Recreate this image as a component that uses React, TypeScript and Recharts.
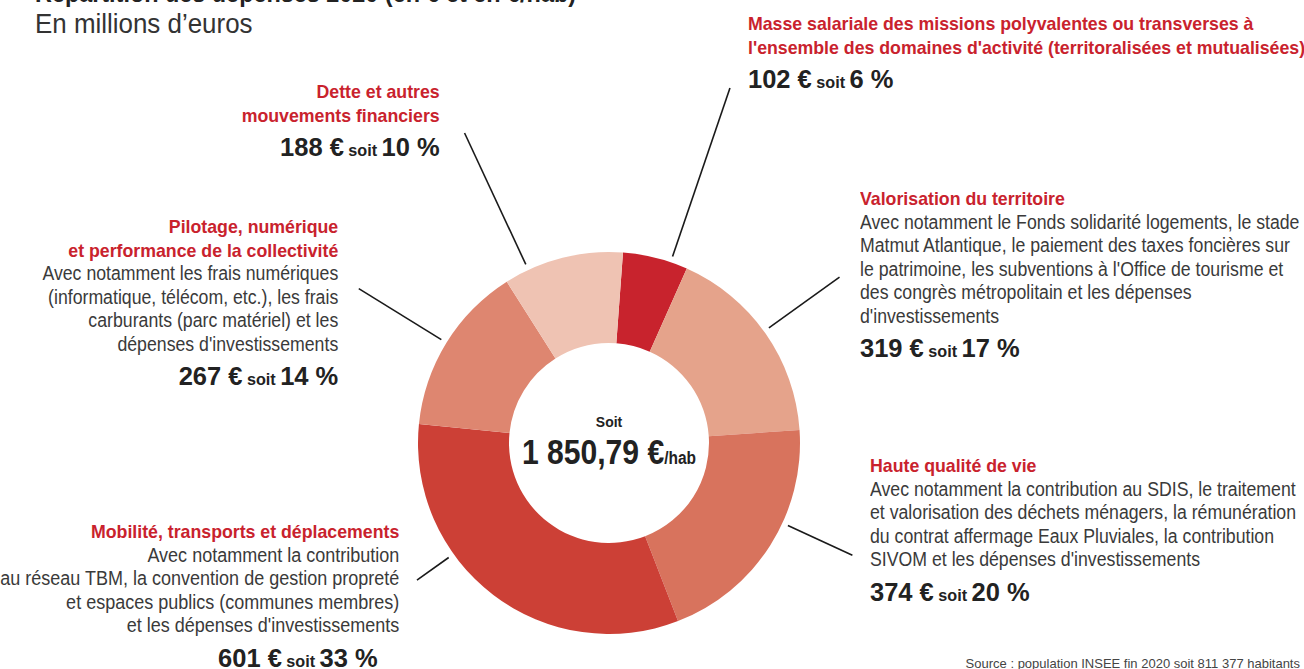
import { PieChart, Pie, Cell } from "recharts";

// Dépenses par habitant (€/hab) et part du total
const categories = [
  "Masse salariale des missions polyvalentes",
  "Valorisation du territoire",
  "Haute qualité de vie",
  "Mobilité, transports et déplacements",
  "Pilotage, numérique et performance de la collectivité",
  "Dette et autres mouvements financiers",
];
const perHab = [102, 319, 374, 601, 267, 188];
const shares = [6, 17, 20, 33, 14, 10];
const sliceColors = ["#C8232D", "#E5A38B", "#D8735D", "#CC4036", "#DE8670", "#EFC3B3"];

const headings = [
  ["Masse salariale des missions polyvalentes ou transverses à", "l'ensemble des domaines d'activité (territoralisées et mutualisées)"],
  ["Valorisation du territoire"],
  ["Haute qualité de vie"],
  ["Mobilité, transports et déplacements"],
  ["Pilotage, numérique", "et performance de la collectivité"],
  ["Dette et autres", "mouvements financiers"],
];
const details = [
  [],
  [
    "Avec notamment le Fonds solidarité logements, le stade",
    "Matmut Atlantique, le paiement des taxes foncières sur",
    "le patrimoine, les subventions à l'Office de tourisme et",
    "des congrès métropolitain et les dépenses",
    "d'investissements",
  ],
  [
    "Avec notamment la contribution au SDIS, le traitement",
    "et valorisation des déchets ménagers, la rémunération",
    "du contrat affermage Eaux Pluviales, la contribution",
    "SIVOM et les dépenses d'investissements",
  ],
  [
    "Avec notamment la contribution",
    "au réseau TBM, la convention de gestion propreté",
    "et espaces publics (communes membres)",
    "et les dépenses d'investissements",
  ],
  [
    "Avec notamment les frais numériques",
    "(informatique, télécom, etc.), les frais",
    "carburants (parc matériel) et les",
    "dépenses d'investissements",
  ],
  [],
];
const totalPerHab = "1 850,79 €";

const data = categories.map((name, i) => ({ name, value: perHab[i] }));

// layout of annotation blocks and leader lines
const blocks = [
  { x: 748, top: 12, align: "left", valuePad: 0, bodyScale: 0.885 },
  { x: 860, top: 187, align: "left", valuePad: 0, bodyScale: 0.885 },
  { x: 870, top: 454, align: "left", valuePad: 0, bodyScale: 0.885 },
  { x: 399, top: 520, align: "right", valuePad: 22, bodyScale: 0.9 },
  { x: 338, top: 215, align: "right", valuePad: 0, bodyScale: 0.885 },
  { x: 440, top: 80, align: "right", valuePad: 0, bodyScale: 0.885 },
];
const leaders = [
  { off: 4.7, len: 375 },
  { off: -0.8, len: 284 },
  { off: -7.7, len: 268 },
  { off: 17.2, len: 236 },
  { off: 0, len: 294 },
  { off: -10.9, len: 342 },
];

const RAD = Math.PI / 180;
const RED = "#C9222D";
const FONT = '"Liberation Sans", Arial, sans-serif';

const renderLeader = (props: any) => {
  const { cx, cy, midAngle, outerRadius, index } = props;
  const l = leaders[index];
  const a = (midAngle - l.off) * RAD;
  const r1 = outerRadius + 6;
  return (
    <line
      key={`leader-${index}`}
      x1={cx + r1 * Math.cos(a)}
      y1={cy - r1 * Math.sin(a)}
      x2={cx + l.len * Math.cos(a)}
      y2={cy - l.len * Math.sin(a)}
      stroke="#1a1a1a"
      strokeWidth={1.6}
    />
  );
};

function Line({ children, scale, origin, style }: any) {
  return (
    <div style={{ transform: `scaleX(${scale})`, transformOrigin: origin, ...style }}>
      {children}
    </div>
  );
}

function Block({ i }: { i: number }) {
  const b = blocks[i];
  const pos: any = b.align === "left" ? { left: b.x } : { right: 1304 - b.x };
  const origin = b.align === "left" ? "left center" : "right center";
  return (
    <div
      style={{
        position: "absolute",
        top: b.top,
        ...pos,
        textAlign: b.align as any,
        whiteSpace: "nowrap",
      }}
    >
      {headings[i].map((t) => (
        <Line
          key={t}
          scale={0.958}
          origin={origin}
          style={{ color: RED, fontWeight: 700, fontSize: 18.5, lineHeight: "23.5px" }}
        >
          {t}
        </Line>
      ))}
      {details[i].map((t) => (
        <Line
          key={t}
          scale={b.bodyScale}
          origin={origin}
          style={{ color: "#3a3a3a", fontSize: 20, lineHeight: "23.5px" }}
        >
          {t}
        </Line>
      ))}
      <Line
        scale={0.98}
        origin={origin}
        style={{ color: "#222", fontWeight: 700, lineHeight: "41.5px", paddingRight: b.valuePad }}
      >
        <span style={{ fontSize: 26 }}>{perHab[i]} €</span>
        <span style={{ fontSize: 16.5 }}> soit </span>
        <span style={{ fontSize: 26 }}>{shares[i]} %</span>
      </Line>
    </div>
  );
}

export default function App() {
  return (
    <div
      style={{
        position: "fixed",
        left: 0,
        top: 0,
        width: 1304,
        height: 669,
        overflow: "hidden",
        background: "#fff",
        fontFamily: FONT,
      }}
    >
      <div
        style={{
          position: "absolute",
          left: 35,
          top: -20,
          fontSize: 26,
          lineHeight: "26px",
          fontWeight: 700,
          color: "#222",
          whiteSpace: "nowrap",
          transform: "scaleX(0.9)",
          transformOrigin: "left center",
        }}
      >
        Répartition des dépenses 2020 (en € et en €/hab)
      </div>
      <div
        style={{
          position: "absolute",
          left: 35,
          top: 8,
          fontSize: 27,
          lineHeight: "32px",
          color: "#333",
          whiteSpace: "nowrap",
          transform: "scaleX(0.96)",
          transformOrigin: "left center",
        }}
      >
        En millions d’euros
      </div>

      <div style={{ position: "absolute", left: 0, top: 0 }}>
        <PieChart width={1304} height={669} margin={{ top: 0, right: 0, bottom: 0, left: 0 }}>
          <Pie
            data={data}
            dataKey="value"
            nameKey="name"
            cx={609}
            cy={443}
            innerRadius={100}
            outerRadius={191}
            startAngle={85.8}
            endAngle={-274.2}
            stroke="none"
            label={renderLeader}
            labelLine={false}
            isAnimationActive={false}
          >
            {data.map((d, i) => (
              <Cell key={d.name} fill={sliceColors[i]} />
            ))}
          </Pie>
        </PieChart>
      </div>

      <div
        style={{
          position: "absolute",
          left: 459,
          top: 412,
          width: 300,
          textAlign: "center",
          color: "#222",
          fontWeight: 700,
          whiteSpace: "nowrap",
        }}
      >
        <div style={{ fontSize: 15.5, lineHeight: "20px", transform: "scaleX(0.9)" }}>Soit</div>
        <div style={{ lineHeight: "40px", transform: "scaleX(0.86)" }}>
          <span style={{ fontSize: 35 }}>{totalPerHab}</span>
          <span style={{ fontSize: 18 }}>/hab</span>
        </div>
      </div>

      {categories.map((c, i) => (
        <Block key={c} i={i} />
      ))}

      <div
        style={{
          position: "absolute",
          right: 4,
          top: 655,
          fontSize: 13,
          lineHeight: "18px",
          color: "#444",
          whiteSpace: "nowrap",
        }}
      >
        Source : population INSEE fin 2020 soit 811 377 habitants
      </div>
    </div>
  );
}
